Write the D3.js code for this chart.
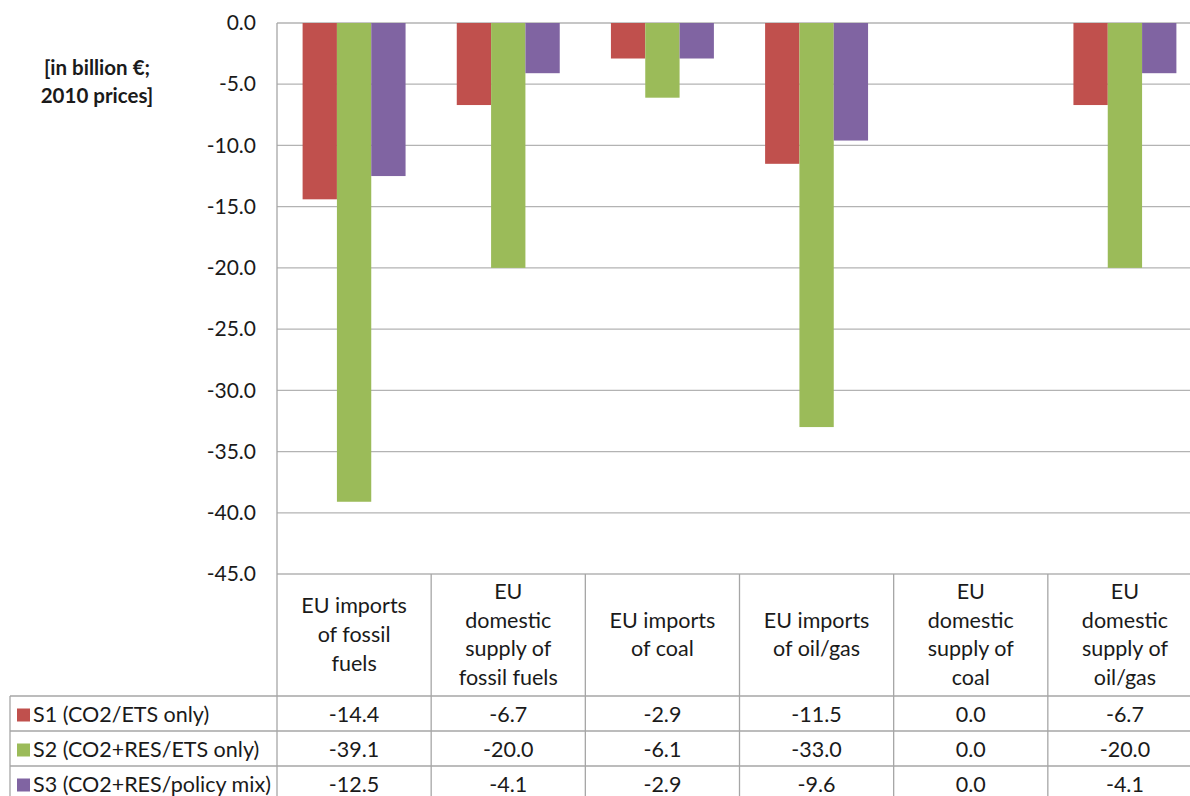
<!DOCTYPE html>
<html>
<head>
<meta charset="utf-8">
<script src="https://cdnjs.cloudflare.com/ajax/libs/d3/7.8.5/d3.min.js"></script>
<style>
  body { margin: 0; background: #fff; }
  svg text { font-family: Lato, "Open Sans", sans-serif; fill: #1a1a1a; }
</style>
</head>
<body>
<div class="chart"></div>
<script>
var categories = [
  ["EU imports", "of fossil", "fuels"],
  ["EU", "domestic", "supply of", "fossil fuels"],
  ["EU imports", "of coal"],
  ["EU imports", "of oil/gas"],
  ["EU", "domestic", "supply of", "coal"],
  ["EU", "domestic", "supply of", "oil/gas"]
];
var seriesNames = ["S1 (CO2/ETS only)", "S2 (CO2+RES/ETS only)", "S3 (CO2+RES/policy mix)"];
var s1 = [-14.4, -6.7, -2.9, -11.5, 0.0, -6.7];
var s2 = [-39.1, -20.0, -6.1, -33.0, 0.0, -20.0];
var s3 = [-12.5, -4.1, -2.9, -9.6, 0.0, -4.1];
var yTicks = [0, -5, -10, -15, -20, -25, -30, -35, -40, -45];
var colors = ["#c0504d", "#9bbb59", "#8064a2"];

var svgWidth = 1190, svgHeight = 796;
var plotLeft = 277, plotRight = 1202, plotTop = 23, plotBottom = 574;
var tableLeft = 10;
var rowLines = [696, 731, 766, 801];
var fs = "21.5px";

var svg = d3.select(".chart").append("svg")
  .attr("width", svgWidth).attr("height", svgHeight);

var seriesData = [s1, s2, s3];
var catIdx = d3.range(categories.length);

var x0 = d3.scaleBand().domain(catIdx).range([plotLeft, plotRight]);
var x1 = d3.scaleBand().domain(d3.range(seriesNames.length))
  .range([25.6, x0.bandwidth() - 25.6]);
var y = d3.scaleLinear().domain([-45, 0]).range([plotBottom, plotTop]);

// gridlines
svg.append("g").selectAll("line").data(yTicks).enter().append("line")
  .attr("x1", plotLeft).attr("x2", plotRight)
  .attr("y1", function(d){ return y(d); }).attr("y2", function(d){ return y(d); })
  .attr("stroke", "#b3b3b3").attr("stroke-width", 1.3);

// bars
var groups = svg.append("g").selectAll("g").data(catIdx).enter().append("g")
  .attr("transform", function(i){ return "translate(" + x0(i) + ",0)"; });
groups.selectAll("rect")
  .data(function(i){ return seriesData.map(function(s, k){ return {k: k, v: s[i]}; }); })
  .enter().append("rect")
  .attr("x", function(d){ return x1(d.k); })
  .attr("width", x1.bandwidth())
  .attr("y", y(0))
  .attr("height", function(d){ return y(d.v) - y(0); })
  .attr("fill", function(d){ return colors[d.k]; });

// y axis
var leftAxis = d3.axisLeft(y).tickValues(yTicks).tickSize(0).tickPadding(21)
  .tickFormat(function(d){ return d.toFixed(1); });
var ax = svg.append("g").attr("transform", "translate(" + plotLeft + ",0)").call(leftAxis);
ax.select(".domain").remove();
ax.selectAll("text").style("font-size", "21px").attr("fill", "#1a1a1a");

// axis title
var title = svg.append("text").attr("x", 97).attr("y", 75)
  .attr("text-anchor", "middle").style("font-size", "20.5px").style("font-weight", "bold");
title.append("tspan").attr("x", 97).text("[in billion \u20ac;");
title.append("tspan").attr("x", 97).attr("dy", 28).text("2010 prices]");

// data table lines
var lineColor = "#a6a6a6";
var tbl = svg.append("g").attr("stroke", lineColor).attr("stroke-width", 1.3);
tbl.append("line").attr("x1", plotLeft).attr("x2", plotLeft)
  .attr("y1", plotTop).attr("y2", svgHeight);
catIdx.slice(1).forEach(function(i){
  tbl.append("line").attr("x1", x0(i)).attr("x2", x0(i))
    .attr("y1", plotBottom).attr("y2", svgHeight);
});
rowLines.forEach(function(ry){
  tbl.append("line").attr("x1", tableLeft).attr("x2", plotRight)
    .attr("y1", ry).attr("y2", ry);
});
tbl.append("line").attr("x1", tableLeft).attr("x2", tableLeft)
  .attr("y1", rowLines[0]).attr("y2", svgHeight);

// category headers
var headerTop = plotBottom, headerBottom = rowLines[0];
categories.forEach(function(lines, i){
  var lh = 28.6;
  var cy = (headerTop + headerBottom) / 2 - (lines.length - 1) * lh / 2 + 7;
  var t = svg.append("text").attr("text-anchor", "middle").style("font-size", fs);
  lines.forEach(function(l, j){
    t.append("tspan").attr("x", x0(i) + x0.bandwidth() / 2).attr("y", cy + j * lh).text(l);
  });
});

// legend rows and values
seriesNames.forEach(function(name, k){
  var top = rowLines[k], bot = rowLines[k + 1];
  var mid = (top + bot) / 2;
  svg.append("rect").attr("x", 17).attr("y", mid - 5).attr("width", 13).attr("height", 13)
    .attr("fill", colors[k]);
  svg.append("text").attr("x", 33).attr("y", mid + 8.5).style("font-size", fs).text(name);
  seriesData[k].forEach(function(v, i){
    svg.append("text").attr("x", x0(i) + x0.bandwidth() / 2).attr("y", mid + 8.5)
      .attr("text-anchor", "middle").style("font-size", fs).text(v.toFixed(1));
  });
});
</script>
</body>
</html>
